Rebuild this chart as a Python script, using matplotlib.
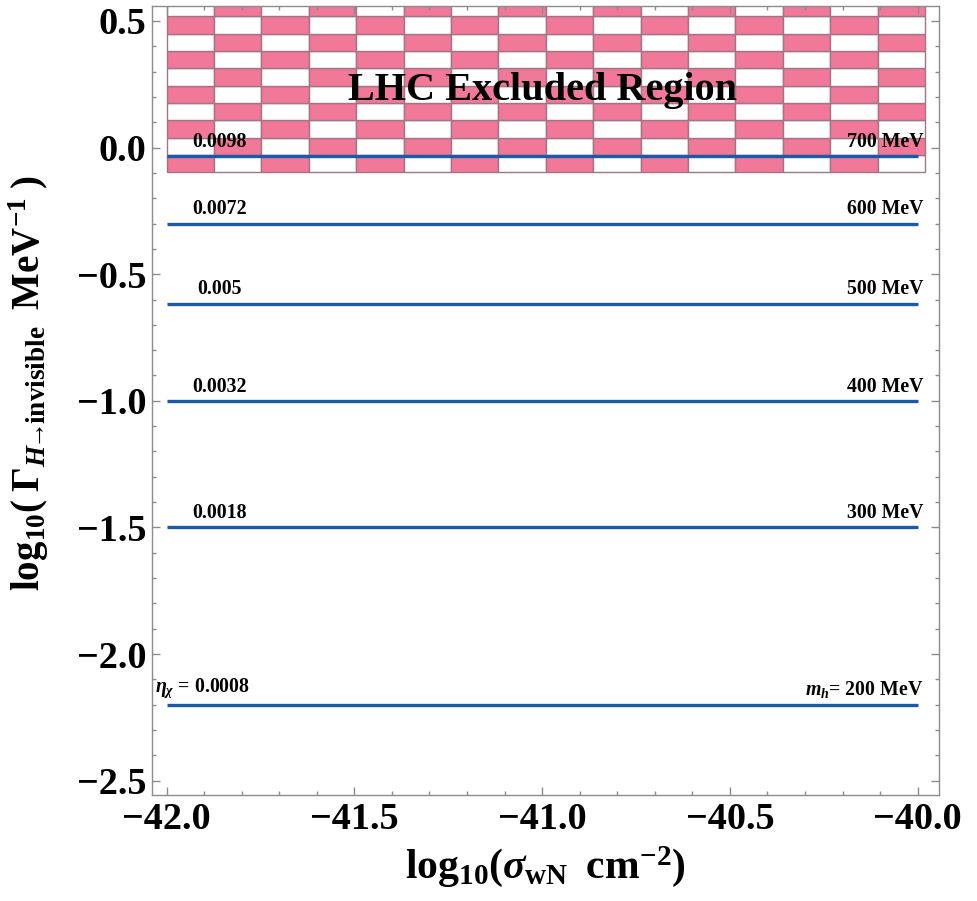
import matplotlib.pyplot as plt
from matplotlib.patches import Rectangle
from matplotlib.ticker import MultipleLocator, FuncFormatter

plt.rcParams['font.family'] = ['Liberation Serif', 'DejaVu Serif']
plt.rcParams['font.weight'] = 'bold'
plt.rcParams['mathtext.fontset'] = 'custom'
plt.rcParams['mathtext.rm'] = 'Liberation Serif:bold'
plt.rcParams['mathtext.bf'] = 'Liberation Serif:bold'
plt.rcParams['mathtext.it'] = 'Liberation Serif:bold:italic'
plt.rcParams['mathtext.default'] = 'bf'

# data
masses = ['200', '300', '400', '500', '600', '700']
etas = ['0.0008', '0.0018', '0.0032', '0.005', '0.0072', '0.0098']
log_gamma = [-2.20, -1.50, -1.00, -0.616, -0.30, -0.035]
sigma_range = [-42.0, -40.0]

# LHC excluded band
excl_x = [-42.0, -39.98]
excl_y = [-0.097, 0.587]
n_cols, n_rows = 16, 10

pink = '#f2789a'
blue = '#1a5aa8'
frame = '#8c8c8c'

fig = plt.figure(figsize=(9.77, 9.01), dpi=100)
ax = fig.add_axes([0.1556, 0.1176, 0.8055, 0.8757])

# checkered texture of the excluded region
cw = (excl_x[1] - excl_x[0]) / n_cols
ch = (excl_y[1] - excl_y[0]) / n_rows
for i in range(n_cols):
    for j in range(n_rows):
        fc = pink if (i + j) % 2 == 0 else 'white'
        ax.add_patch(Rectangle((excl_x[0] + i * cw, excl_y[0] + j * ch), cw, ch,
                               facecolor=fc, edgecolor='#a07585', lw=1.0, zorder=1))
ax.text(-41.0, 0.225, 'LHC Excluded Region', ha='center', va='center',
        fontsize=29, fontweight='bold', zorder=4)

for k, (m, eta, g) in enumerate(zip(masses, etas, log_gamma)):
    ax.plot(sigma_range, [g, g], color=blue, lw=2.4, solid_capstyle='butt', zorder=3)
    if k == 0:
        left = r'$\mathit{\eta}_{\mathit{\chi}}$ = ' + eta
        right = r'$\mathit{m}_{\mathit{h}}$= ' + m + ' MeV'
        ax.annotate(left, (-42.03, g), xytext=(0, 3), textcoords='offset points',
                    ha='left', va='bottom', fontsize=14.3, fontweight='bold', zorder=4)
    else:
        right = m + ' MeV'
        ax.annotate(eta, (-41.86, g), xytext=(0, 3), textcoords='offset points',
                    ha='center', va='bottom', fontsize=14.3, fontweight='bold', zorder=4)
    ax.annotate(right, (-39.985, g), xytext=(0, 3), textcoords='offset points',
                ha='right', va='bottom', fontsize=14.3, fontweight='bold', zorder=4)

ax.set_xlim(-42.039, -39.943)
ax.set_ylim(-2.557, 0.559)
fmt = FuncFormatter(lambda v, p: ('%.1f' % v).replace('-', '\u2212'))
ax.xaxis.set_major_locator(MultipleLocator(0.5))
ax.xaxis.set_minor_locator(MultipleLocator(0.1))
ax.yaxis.set_major_locator(MultipleLocator(0.5))
ax.yaxis.set_minor_locator(MultipleLocator(0.1))
ax.xaxis.set_major_formatter(fmt)
ax.yaxis.set_major_formatter(fmt)
ax.tick_params(which='both', direction='in', top=True, right=True, color=frame, width=1)
ax.tick_params(which='major', length=6)
ax.tick_params(which='minor', length=3)
ax.tick_params(axis='x', labelsize=27.5, pad=5)
ax.tick_params(axis='y', labelsize=27.5, pad=4)
for lab in ax.get_xticklabels() + ax.get_yticklabels():
    lab.set_fontweight('bold')
for sp in ax.spines.values():
    sp.set_color(frame)
    sp.set_linewidth(1.0)

ax.set_xlabel(r'$\mathbf{log_{10}(}\mathit{\sigma}_{\mathbf{wN}}\;\;\mathbf{cm^{-2})}$', fontsize=30)
ax.xaxis.set_label_coords(0.5, -0.062)
ax.set_ylabel(r'$\mathbf{log_{10}(\;\Gamma}_{\mathit{H}\!\!\rightarrow\!\!\mathbf{invisible}}\;\;\mathbf{MeV^{-1}\;)}$',
              fontsize=28)
ax.yaxis.set_label_coords(-0.128, 0.522)

fig.savefig('out.png', dpi=100)
